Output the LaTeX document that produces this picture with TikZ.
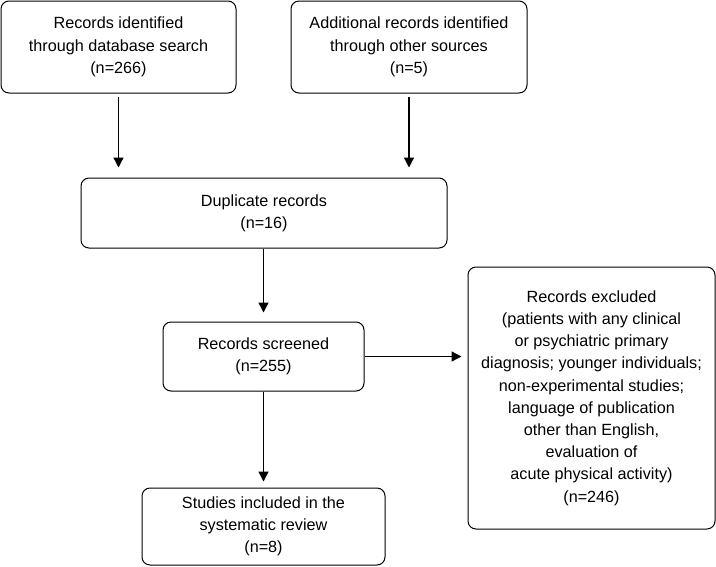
\documentclass[tikz,border=0pt]{standalone}
\usepackage{fontspec}
\setmainfont{Liberation Sans}
\usetikzlibrary{arrows.meta}
\begin{document}
\begin{tikzpicture}[x=1pt,y=-1pt,
  box/.style={draw, line width=1pt, rounded corners=8pt, align=center, inner sep=0pt,
    font=\fontsize{16.2}{22.2}\selectfont},
  arr/.style={line width=1.3pt, -{Triangle[length=10pt,width=10pt]}}]
\useasboundingbox (0,0) rectangle (716,566);
\node[box, minimum width=235pt, minimum height=92pt] (b1) at (118.5,47) {Records identified\\through database search\\(n=266)};
\node[box, minimum width=236pt, minimum height=92pt] (b2) at (409,47) {Additional records identified\\through other sources\\(n=5)};
\node[box, minimum width=366pt, minimum height=70pt] (dup) at (264,213) {Duplicate records\\(n=16)};
\node[box, minimum width=201pt, minimum height=69pt] (scr) at (263.5,356.5) {Records screened\\(n=255)};
\node[box, minimum width=247pt, minimum height=262pt] (exc) at (591.5,398) {Records excluded\\(patients with any clinical\\or psychiatric primary\\diagnosis; younger individuals;\\non-experimental studies;\\language of publication\\other than English,\\evaluation of\\acute physical activity)\\(n=246)};
\node[box, minimum width=243pt, minimum height=77pt] (stu) at (263.5,526.5) {Studies included in the\\systematic review\\(n=8)};
\draw[arr, shorten <=3pt, shorten >=10pt] (b1.south) -- (b1.south |- dup.north);
\draw[arr, shorten <=3pt, shorten >=10pt] (b2.south) -- (b2.south |- dup.north);
\draw[arr, shorten >=9pt] (dup.south -| scr.north) -- (scr.north);
\draw[arr, shorten >=6pt] (scr.east) -- (scr.east -| exc.west);
\draw[arr, shorten >=6pt] (scr.south) -- (scr.south |- stu.north);
\end{tikzpicture}
\end{document}
